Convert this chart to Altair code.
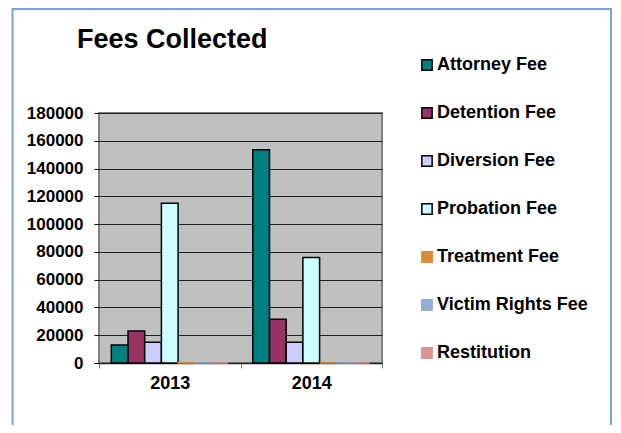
import altair as alt
import pandas as pd

years = ["2013", "2014"]
series = ["Attorney Fee", "Detention Fee", "Diversion Fee", "Probation Fee",
          "Treatment Fee", "Victim Rights Fee", "Restitution"]
attorney = [13000, 153500]
detention = [23000, 31500]
diversion = [15000, 15000]
probation = [115000, 76000]
treatment = [300, 0]
victim = [0, 0]
restitution = [0, 0]
y_ticks = [0, 20000, 40000, 60000, 80000, 100000, 120000, 140000, 160000, 180000]

fills = ["#008080", "#993366", "#CCCCFF", "#CCFFFF", "#E0883C", "#95AAD4", "#D99594"]
strokes = ["#000000", "#000000", "#000000", "#000000", "#E0883C", "#95AAD4", "#D99594"]

values_by_series = [attorney, detention, diversion, probation, treatment, victim, restitution]
rows = []
for s, vals in zip(series, values_by_series):
    for yr, v in zip(years, vals):
        rows.append({"Year": yr, "Series": s, "Value": v})
df = pd.DataFrame(rows)

FONT = "Liberation Sans"

legend = alt.Legend(
    orient="none", legendX=319, legendY=-57, direction="vertical", title=None,
    symbolType="square", symbolSize=106, symbolStrokeWidth=1.5,
    labelFontSize=18, labelFontWeight="bold", labelFont=FONT, labelColor="black",
    labelOffset=1, rowPadding=30, padding=0, labelLimit=300,
)

bars = alt.Chart(df).mark_bar(strokeWidth=1.5).encode(
    x=alt.X("Year:N", sort=years,
            scale=alt.Scale(paddingInner=0, paddingOuter=0),
            axis=alt.Axis(title=None, labelAngle=0, domain=True, domainColor="#222222",
                          domainWidth=1.5, ticks=True, tickColor="#808080", tickSize=5,
                          tickBand="extent", labelPadding=6, grid=False,
                          labelFont=FONT, labelFontSize=18, labelFontWeight="bold",
                          labelColor="black")),
    xOffset=alt.XOffset("Series:N", sort=series,
                        scale=alt.Scale(domain=series, paddingInner=0, paddingOuter=0.737)),
    y=alt.Y("Value:Q", scale=alt.Scale(domain=[0, 180000], nice=False),
            axis=alt.Axis(title=None, values=y_ticks, domain=False, ticks=True,
                          tickColor="black", tickSize=5, labelPadding=11,
                          grid=True, gridColor="#222222", gridWidth=1,
                          labelFont=FONT, labelFontSize=17, labelFontWeight="bold",
                          labelColor="black", format="d")),
    fill=alt.Fill("Series:N", sort=series, scale=alt.Scale(domain=series, range=fills),
                  legend=legend),
    stroke=alt.Stroke("Series:N", sort=series, scale=alt.Scale(domain=series, range=strokes),
                      legend=legend),
)

frame = alt.Chart(alt.Data(values=[{}])).mark_rect(
    fillOpacity=0, stroke="#7BA0DA", strokeWidth=2
).encode(
    x=alt.value(-86.5), x2=alt.value(512), y=alt.value(-104), y2=alt.value(330)
)

chart = alt.layer(frame, bars).properties(
    width=283, height=250,
    background="white",
    padding={"left": 91, "top": 105, "right": 231, "bottom": 62},
    autosize=alt.AutoSizeParams(type="none"),
    title=alt.TitleParams("Fees Collected", anchor="start", frame="group",
                          fontSize=27, font=FONT, fontWeight="bold", color="black",
                          baseline="alphabetic", dx=-22, offset=0, dy=67),
).configure_view(
    fill="#C0C0C0", stroke="#808080", strokeWidth=2
)

chart.save("out.html", embed_options={"renderer": "svg", "actions": False})
